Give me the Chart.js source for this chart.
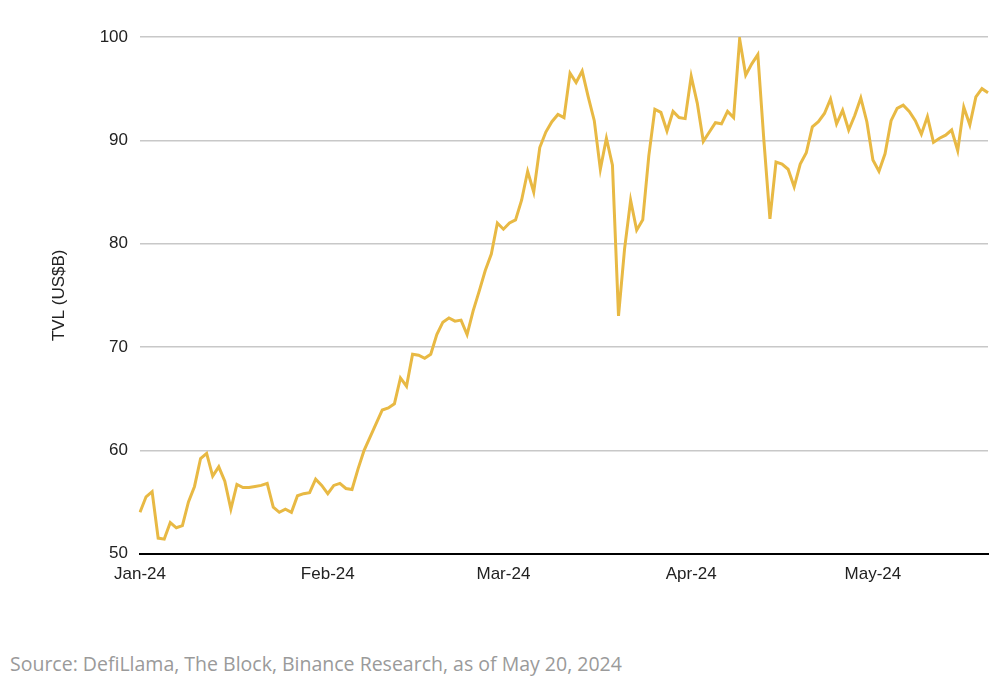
<!DOCTYPE html>
<html>
<head>
<meta charset="utf-8">
<script src="https://cdn.jsdelivr.net/npm/chart.js@4.4.1/dist/chart.umd.min.js"></script>
<style>
  body { margin: 0; background: #fff; font-family: "Liberation Sans", Arial, sans-serif; }
  #wrap { position: relative; width: 1006px; height: 600px; }
  #source { position: absolute; left: 10px; top: 650px; font-family: "Open Sans", sans-serif; font-size: 19.5px; color: #9a9a9a; }
</style>
</head>
<body>
<div id="wrap"><canvas id="myChart"></canvas></div>
<div id="source">Source: DefiLlama, The Block, Binance Research, as of May 20, 2024</div>
<script>
'use strict';

// ***** DATA *****
let monthNames = ['Jan-24', 'Feb-24', 'Mar-24', 'Apr-24', 'May-24'];
let daysInMonth = [31, 29, 31, 30, 20];

let janValues = [54, 55.5, 56, 51.5, 51.4, 53, 52.5, 52.7, 55, 56.5, 59.2, 59.7, 57.5, 58.4, 57, 54.3, 56.7, 56.4, 56.4, 56.5, 56.6, 56.8, 54.5, 54, 54.3, 54, 55.6, 55.8, 55.9, 57.2, 56.6];
let febValues = [55.8, 56.6, 56.8, 56.3, 56.2, 58.2, 60, 61.3, 62.6, 63.9, 64.1, 64.5, 67, 66.2, 69.3, 69.2, 68.9, 69.3, 71.2, 72.4, 72.8, 72.5, 72.6, 71.2, 73.5, 75.4, 77.4, 79, 82];
let marValues = [81.4, 82, 82.3, 84.2, 87, 85, 89.3, 90.8, 91.8, 92.5, 92.2, 96.5, 95.6, 96.7, 94.2, 91.9, 87.2, 90.2, 87.6, 73, 79.5, 84.2, 81.3, 82.3, 88.5, 93, 92.7, 90.9, 92.8, 92.2, 92.1];
let aprValues = [96.2, 93.6, 89.9, 90.8, 91.7, 91.6, 92.8, 92.2, 99.8, 96.3, 97.4, 98.3, 90, 82.4, 87.9, 87.7, 87.2, 85.5, 87.7, 88.8, 91.3, 91.8, 92.6, 94, 91.6, 92.9, 91, 92.4, 94.1, 91.8];
let mayValues = [88.1, 87, 88.7, 91.9, 93.1, 93.4, 92.8, 91.9, 90.6, 92.3, 89.8, 90.2, 90.5, 91, 89, 93.2, 91.5, 94.2, 95, 94.6];

let yTicks = [50, 60, 70, 80, 90, 100];

// ***** BUILD LABELS *****
let labels = [];
for (let m = 0; m < monthNames.length; m++) {
  for (let d = 1; d <= daysInMonth[m]; d++) {
    labels.push(d === 1 ? monthNames[m] : monthNames[m] + '-' + d);
  }
}
let tvl = janValues.concat(febValues, marValues, aprValues, mayValues);

// ***** CHART *****
const config = {
  type: 'line',
  data: {
    labels: labels,
    datasets: [{
      label: 'TVL',
      data: tvl,
      borderColor: '#e8b944',
      borderWidth: 3,
      pointRadius: 0,
      tension: 0
    }]
  },
  options: {
    responsive: false,
    animation: false,
    layout: { padding: { top: 37, right: 18, left: 45, bottom: 12 } },
    plugins: { legend: { display: false }, tooltip: { enabled: false } },
    scales: {
      x: {
        offset: false,
        grid: { display: false },
        border: { color: '#000', width: 2 },
        ticks: {
          autoSkip: false,
          maxRotation: 0,
          color: '#222',
          font: { family: 'Liberation Sans', size: 17 },
          callback: function (value, index) {
            let lab = labels[index];
            return monthNames.includes(lab) ? lab : null;
          }
        }
      },
      y: {
        min: 50,
        max: 100,
        afterBuildTicks: function (scale) {
          scale.ticks = yTicks.map(v => ({ value: v }));
        },
        afterFit: function (scale) { scale.width = 95; },
        grid: { color: '#c8c8c8', lineWidth: 1.5, drawTicks: false },
        border: { display: false },
        ticks: {
          padding: 12,
          color: '#222',
          font: { family: 'Liberation Sans', size: 17 }
        },
        title: {
          display: true,
          text: 'TVL (US$B)',
          color: '#222',
          font: { family: 'Liberation Sans', size: 17 },
          padding: { bottom: 0 }
        }
      }
    }
  }
};

let canvasChart = document.getElementById('myChart');
canvasChart.width = 1006;
canvasChart.height = 600;
const myChart = new Chart(canvasChart, config);
</script>
</body>
</html>
